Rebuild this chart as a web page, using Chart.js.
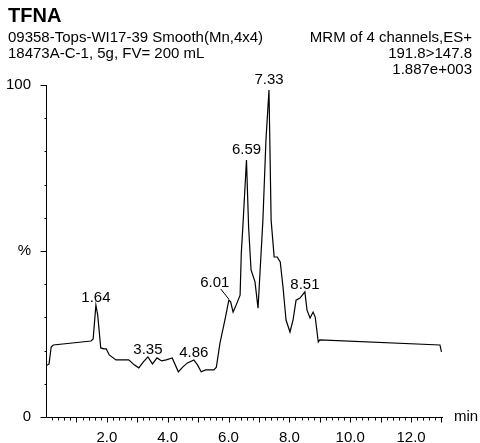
<!DOCTYPE html>
<html>
<head>
<meta charset="utf-8">
<script src="https://cdn.jsdelivr.net/npm/chart.js@4"></script>
<style>
  html, body { margin: 0; padding: 0; background: #fff; }
  #wrap { position: relative; width: 480px; height: 443px; font-family: "Liberation Sans", Arial, sans-serif; color: #000; }
  #wrap canvas { position: absolute; left: 0; top: 0; }
  .txt { position: absolute; white-space: nowrap; font-size: 15px; line-height: 16px; }
  .r { text-align: right; right: 8px; }
</style>
</head>
<body>
<div id="wrap">
  <canvas id="chart" width="480" height="443"></canvas>
  <div class="txt" style="left:8px;top:4px;font-size:20px;line-height:22px;font-weight:bold;">TFNA</div>
  <div class="txt" style="left:8px;top:29px;">09358-Tops-WI17-39 Smooth(Mn,4x4)</div>
  <div class="txt" style="left:8px;top:45px;">18473A-C-1, 5g, FV= 200 mL</div>
  <div class="txt r" style="top:29px;">MRM of 4 channels,ES+</div>
  <div class="txt r" style="top:45px;">191.8&gt;147.8</div>
  <div class="txt r" style="top:61px;">1.887e+003</div>
</div>
<script>
// retention time (min) and relative intensity (%)
const times = [0.00, 0.10, 0.17, 0.24, 1.48, 1.55, 1.64, 1.70, 1.80, 1.90, 1.98, 2.08, 2.30, 2.55, 2.72,
  2.90, 3.05, 3.20, 3.35, 3.50, 3.65, 3.80, 3.95, 4.15, 4.35, 4.50, 4.65, 4.86, 4.98, 5.10, 5.25, 5.52,
  5.60, 5.72, 5.88, 6.01, 6.07, 6.15, 6.25, 6.38, 6.42, 6.47, 6.59, 6.66, 6.74, 6.87, 6.97, 7.07, 7.13,
  7.23, 7.33, 7.40, 7.50, 7.60, 7.70, 7.79, 7.89, 8.02, 8.12, 8.22, 8.35, 8.51, 8.58, 8.68, 8.78, 8.85,
  8.95, 9.00, 12.95, 13.00];
const values = [15.4, 16.0, 21.1, 21.7, 22.9, 23.5, 33.7, 30.7, 20.8, 20.5, 20.5, 18.7, 17.2, 17.2, 17.2,
  15.7, 14.8, 16.6, 18.1, 16.0, 17.8, 16.9, 17.2, 17.8, 13.6, 15.1, 16.3, 17.2, 15.7, 13.6, 14.2, 14.2,
  15.0, 22.3, 29.2, 35.2, 34.7, 31.6, 33.7, 36.7, 49.4, 57.2, 77.4, 57.2, 44.3, 40.7, 32.8, 49.4, 59.3,
  83.4, 98.5, 59.3, 48.2, 48.2, 46.7, 39.2, 29.2, 25.6, 29.2, 35.2, 35.8, 37.7, 32.2, 29.8, 31.6, 30.1,
  22.6, 23.2, 21.7, 19.6];

const peakTimes = [1.64, 3.35, 4.86, 6.01, 6.59, 7.33, 8.51];
const peakLabels = ['1.64', '3.35', '4.86', '6.01', '6.59', '7.33', '8.51'];

const xTickLabels = [2, 4, 6, 8, 10, 12];
const yTicks = [0, 50, 100];
const yTickLabels = ['0', '%', '100'];

const FONT = '"Liberation Sans", Arial, sans-serif';

function valueAt(t) {
    let best = 0;
    for (let i = 0; i < times.length; i++) {
        if (Math.abs(times[i] - t) < Math.abs(times[best] - t)) best = i;
    }
    return values[best];
}

// axis lines, tick marks, peak labels and "min"
const decor = {
    id: 'decor',
    afterDraw(chart) {
        const ctx = chart.ctx;
        const xs = chart.scales.x, ys = chart.scales.y;
        const a = chart.chartArea;
        const left = Math.round(a.left) + 0.5, bottom = Math.round(a.bottom) + 0.5;
        ctx.save();
        ctx.strokeStyle = '#000';
        ctx.lineWidth = 1;
        ctx.beginPath();
        ctx.moveTo(left, Math.round(a.top));
        ctx.lineTo(left, bottom);
        ctx.lineTo(Math.round(a.right), bottom);
        // y ticks
        for (let v = 0; v <= 100; v += 10) {
            const y = Math.round(ys.getPixelForValue(v)) + 0.5;
            const len = (v % 50 === 0) ? 6 : 2;
            ctx.moveTo(left - len, y);
            ctx.lineTo(left, y);
        }
        // x ticks
        for (let i = 1; i * 0.2 <= xs.max + 1e-6; i++) {
            const x = Math.round(xs.getPixelForValue(i * 0.2)) + 0.5;
            const len = (i % 5 === 0) ? 5 : 3;
            ctx.moveTo(x, bottom);
            ctx.lineTo(x, bottom + len);
        }
        ctx.stroke();

        ctx.fillStyle = '#000';
        ctx.font = '15px ' + FONT;
        ctx.textAlign = 'left';
        ctx.textBaseline = 'middle';
        ctx.fillText('min', Math.round(a.right) + 11, bottom - 1);

        ctx.textAlign = 'center';
        ctx.textBaseline = 'alphabetic';
        peakTimes.forEach((t, i) => {
            const px = xs.getPixelForValue(t);
            const py = ys.getPixelForValue(valueAt(t));
            if (peakLabels[i] === '6.01') {
                ctx.fillText(peakLabels[i], px - 14, py - 13);
                ctx.beginPath();
                ctx.moveTo(px - 8, py - 11);
                ctx.lineTo(px, py - 1);
                ctx.stroke();
            } else {
                const gap = valueAt(t) > 60 ? 6 : 3;
                ctx.fillText(peakLabels[i], px, py - gap);
            }
        });
        ctx.restore();
    }
};

new Chart(document.getElementById('chart'), {
    type: 'line',
    data: {
        datasets: [{
            data: times.map((t, i) => ({ x: t, y: values[i] })),
            borderColor: '#000',
            borderWidth: 1.2,
            pointRadius: 0,
            tension: 0,
            fill: false
        }]
    },
    options: {
        responsive: false,
        animation: false,
        events: [],
        layout: { padding: { left: 0, right: 37, top: 85, bottom: 0 } },
        plugins: { legend: { display: false }, tooltip: { enabled: false } },
        scales: {
            x: {
                type: 'linear',
                min: 0,
                max: 13.05,
                grid: { display: false },
                border: { display: false },
                afterBuildTicks: (s) => { s.ticks = xTickLabels.map(v => ({ value: v })); },
                afterFit: (s) => { s.height = 26; },
                ticks: {
                    autoSkip: false,
                    maxRotation: 0,
                    padding: 4,
                    color: '#000',
                    font: { family: FONT, size: 15 },
                    callback: (v) => Number(v).toFixed(1)
                }
            },
            y: {
                min: 0,
                max: 100,
                grid: { display: false },
                border: { display: false },
                afterBuildTicks: (s) => { s.ticks = yTicks.map(v => ({ value: v })); },
                afterFit: (s) => { s.width = 46; },
                ticks: {
                    autoSkip: false,
                    padding: 7,
                    color: '#000',
                    font: { family: FONT, size: 15 },
                    callback: (v) => yTickLabels[yTicks.indexOf(v)]
                }
            }
        }
    },
    plugins: [decor]
});
</script>
</body>
</html>
